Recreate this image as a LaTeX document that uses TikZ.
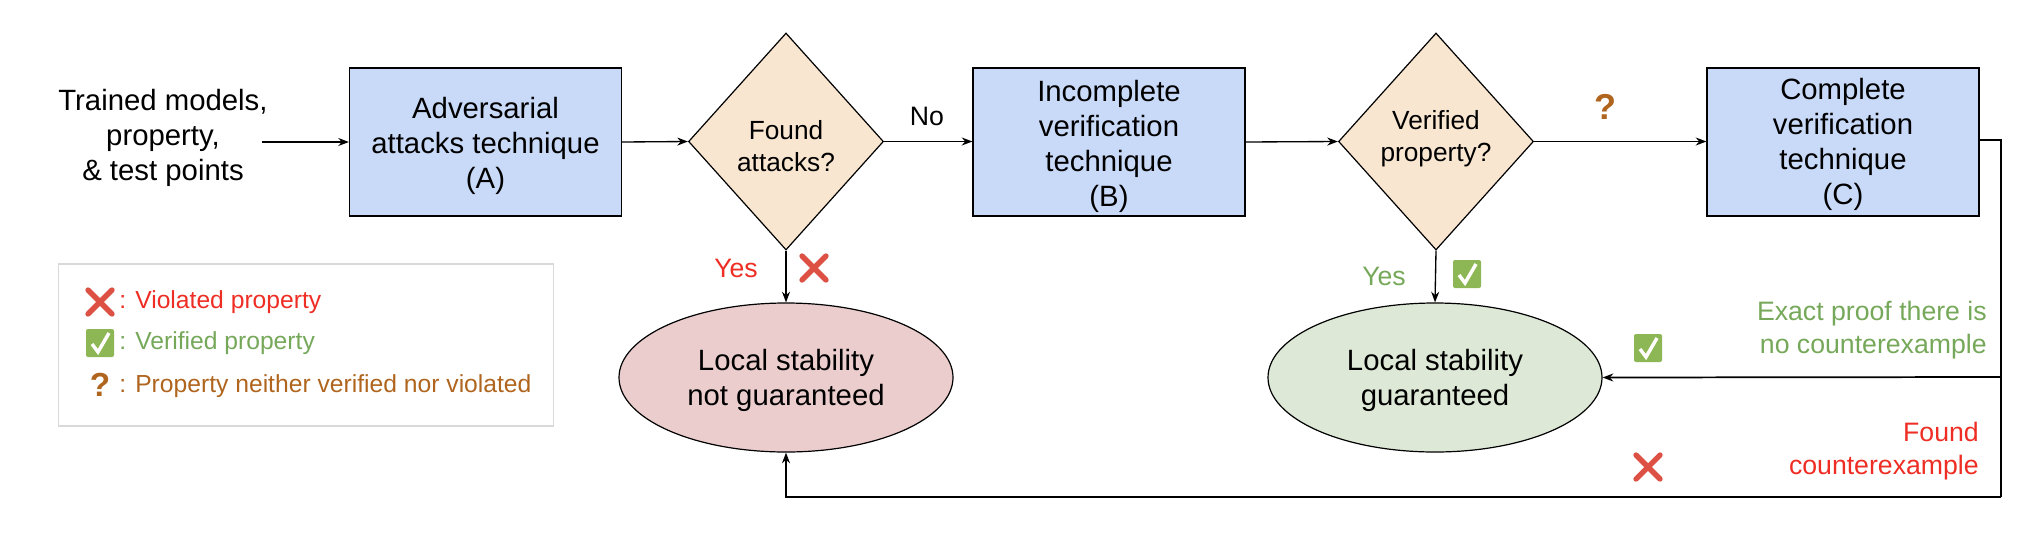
\documentclass[tikz,border=0pt]{standalone}
\usepackage{fontspec}
\setmainfont{Liberation Sans}
\usetikzlibrary{shapes.geometric,arrows.meta,positioning}
\definecolor{boxblue}{HTML}{C9DAF8}
\definecolor{dia}{HTML}{F9E6D1}
\definecolor{pinkfill}{HTML}{ECCDCD}
\definecolor{greenfill}{HTML}{DDE9D6}
\definecolor{tred}{HTML}{EE2E24}
\definecolor{tgreen}{HTML}{76A85A}
\definecolor{tbrown}{HTML}{B0651E}
\definecolor{xred}{HTML}{DD5144}
\definecolor{cgreen}{HTML}{8DB654}
\newcommand{\bigf}{\fontsize{22}{26.3}\selectfont}
\newcommand{\diaf}{\fontsize{19.7}{24.5}\selectfont}
\newcommand{\midf}{\fontsize{20}{25}\selectfont}
\newcommand{\legf}{\fontsize{18.5}{22}\selectfont}
\newcommand{\topst}[1]{\rule{0pt}{#1pt}}
\newcommand{\botst}[1]{\rule[-#1pt]{0pt}{0pt}}
\tikzset{
 x=0.75pt,y=-0.75pt,
 stepbox/.style={draw=black,line width=0.9pt,fill=boxblue,minimum width=204pt,minimum height=111pt,inner sep=0pt,align=center,font=\bigf},
 diabox/.style={diamond,aspect=0.9,draw=black,line width=0.9pt,fill=dia,minimum width=146.25pt,minimum height=162.75pt,inner sep=0pt,align=center,font=\diaf},
 ell/.style={ellipse,draw=black,line width=0.9pt,minimum width=250.5pt,minimum height=111.75pt,inner sep=0pt,align=center,font=\bigf},
 lbl/.style={inner sep=0pt,align=center,font=\bigf},
 rlbl/.style={inner sep=0pt,align=right,font=\midf},
 leg/.style={inner sep=0pt,anchor=west,font=\legf},
 conn/.style={draw=black,line width=1pt,-{Stealth[length=8pt,width=6pt]}},
 heavyconn/.style={draw=black,line width=1.3pt,-{Stealth[length=8pt,width=6pt]}},
 line/.style={draw=black,line width=1.3pt},
 pics/crossmark/.style={code={
   \draw[xred,line width=4pt,line cap=round] (-12,-12) -- (12,12) (-12,12) -- (12,-12);}},
 pics/checkmark/.style={code={
   \fill[cgreen,rounded corners=1.5pt] (-14,-14) rectangle (14,14);
   \draw[white,line width=2.6pt,line cap=butt,line join=miter] (-8,1) -- (-2,9) -- (9,-10);}},
}
\begin{document}
\begin{tikzpicture}
\useasboundingbox (0,0) rectangle (2038,540);
\node[lbl] (input) at (163,138) {Trained models,\\property,\\\& test points};
\coordinate (inputend) at (262,142);
\node[stepbox] (A) at (485.5,142) {\topst{22}Adversarial\\attacks technique\\(A)};
\node[diabox] (D1) at (786,141.5) {\topst{21}Found\\attacks?};
\node[stepbox] (B) at (1109,142) {\topst{22}Incomplete\\verification\\technique\\(B)};
\node[diabox] (D2) at (1436,141.5) {Verified\\property?\botst{8.5}};
\node[stepbox] (C) at (1843,142) {\topst{20}Complete\\verification\\technique\\(C)};
\node[ell,fill=pinkfill] (E1) at (786,377.5) {\topst{20}Local stability\\not guaranteed};
\node[ell,fill=greenfill] (E2) at (1435,377.5) {\topst{20}Local stability\\guaranteed};

\coordinate (cexit) at (2001,140);
\coordinate (cmid) at (2001,377);
\coordinate (cbot) at (2001,497);
\coordinate (e1b) at (786,497);

\draw[conn] (inputend) -- (A.west);
\draw[conn] (A.east) -- (D1.west);
\draw[conn] (D1.east) -- (D1.east -| B.west);
\draw[conn] (B.east) -- (D2.west);
\draw[conn] (D2.east) -- (D2.east -| C.west);
\draw[conn] (D1.south) -- (E1.north);
\draw[conn] (D2.south) -- (E2.north);
\draw[line] (C.east |- cexit) -- (cexit) -- (cbot);
\draw[heavyconn] (cmid) -- (E2.east);
\draw[heavyconn] (cbot) -- (e1b) -- (E1.south);

\node[inner sep=0pt,font=\midf] (no) at (927,116) {No};
\node[inner sep=0pt,font=\midf,text=tred] (yes1) at (736,268) {Yes};
\node[inner sep=0pt,font=\midf,text=tgreen] (yes2) at (1384,276) {Yes};
\node[inner sep=0pt,font=\fontsize{27}{30}\selectfont\bfseries,text=tbrown] (q) at (1605,107) {?};
\node[rlbl,text=tgreen,anchor=east] (proof) at (1987,330) {Exact proof there is\\no counterexample};
\node[rlbl,text=tred,anchor=east] (found) at (1979,451) {Found\\counterexample};

\pic at (814,268) {crossmark};
\pic at (1467,274) {checkmark};
\pic at (1648,348) {checkmark};
\pic at (1648,467) {crossmark};

\node[draw=black!15,line width=1.1pt,minimum width=371.6pt,minimum height=121.5pt,inner sep=0pt] (legend) at (306,345) {};
\pic at (100,302) {crossmark};
\pic at (100,343) {checkmark};
\node[leg,text=tred] (l1) at (119,302) {: Violated property};
\node[leg,text=tgreen] (l2) at (119,343) {: Verified property};
\node[inner sep=0pt,font=\fontsize{25}{28}\selectfont\bfseries,text=tbrown] (q2) at (100,385) {?};
\node[leg,text=tbrown] (l3) at (119,386) {: Property neither verified nor violated};
\end{tikzpicture}
\end{document}
